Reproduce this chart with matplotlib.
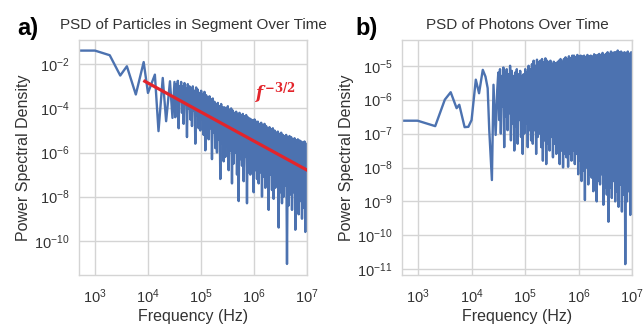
import numpy as np
import matplotlib
matplotlib.use('Agg')
import matplotlib.pyplot as plt
from matplotlib.ticker import NullLocator

# ---------------- data ----------------
# Panel a: PSD of particles in segment
freq_a_low = [500, 1000, 1900, 3000, 4000, 5900, 8300, 10000, 13500, 15800,
              19000, 22000, 26000, 29000]
psd_a_low_exp = [-1.38, -1.38, -1.59, -2.51, -2.09, -3.37, -1.90, -3.30, -2.47, -5.03,
                 -2.62, -4.58, -2.77, -4.43]
psd_a_dense_exp = [
    -2.8, -4.4, -2.9, -3.6, -2.75, -4.9, -3.0, -3.4, -2.8, -4.2,
    -3.0, -4.7, -2.85, -3.8, -3.1, -5.3, -2.9, -4.0, -3.0, -4.5,
    -3.1, -4.8, -3.0, -4.1, -3.2, -5.6, -3.05, -4.3, -3.15, -4.9,
    -3.3, -5.0, -3.2, -4.5, -3.35, -5.2, -3.25, -5.9, -3.4, -4.7,
    -3.5, -5.4, -3.45, -4.9, -3.6, -6.3, -3.55, -5.1, -3.7, -5.8,
    -3.8, -6.0, -3.75, -5.4, -3.9, -7.2, -3.8, -5.6, -3.95, -6.4,
    -3.95, -6.2, -4.0, -5.7, -3.9, -6.8, -4.05, -5.9, -4.0, -7.4,
    -4.1, -6.5, -4.2, -6.0, -4.15, -7.0, -4.25, -8.2, -4.2, -6.3,
    -4.3, -6.6, -4.25, -7.3, -4.35, -6.2, -4.3, -8.3, -4.4, -6.9,
    -4.45, -7.0, -4.5, -6.5, -4.55, -7.8, -4.5, -6.8, -4.6, -7.2,
    -4.6, -7.4, -4.7, -6.9, -4.65, -8.0, -4.75, -7.1, -4.7, -7.6,
    -4.8, -7.3, -4.9, -8.6, -4.85, -7.0, -4.95, -7.7, -4.9, -8.1,
    -5.0, -7.6, -5.1, -7.2, -5.05, -9.4, -5.15, -7.8, -5.1, -8.3,
    -5.2, -8.0, -5.25, -7.5, -5.2, -11.05, -5.3, -8.4, -5.25, -7.9,
    -5.3, -8.6, -5.4, -7.8, -5.35, -9.5, -5.45, -8.1, -5.4, -8.8,
    -5.45, -8.2, -5.5, -9.0, -5.55, -8.5, -5.5, -9.6, -5.6, -9.4,
]
fit_freq = [8.7e3, 1e7]
fit_psd = [1.7e-3, 1.6e-7]

# Panel b: PSD of photons
freq_b_low = [500, 980, 2090, 3160, 4070, 5250, 5890, 7410, 8710, 10000,
              12000, 13800, 16200, 18200, 20000, 21400, 24000, 25700, 28200, 30200]
psd_b_low_exp = [-6.62, -6.62, -6.78, -6.0, -5.78, -6.25, -6.15, -6.81, -6.80, -6.6,
                 -5.41, -5.81, -5.12, -5.32, -5.66, -6.89, -8.37, -5.56, -7.04, -5.71]
psd_b_dense_exp = [
    -5.2, -6.6, -5.1, -7.0, -5.3, -6.2, -5.05, -7.4, -5.2, -6.5,
    -5.1, -6.9, -5.25, -6.4, -5.0, -7.2, -5.15, -6.7, -5.3, -7.5,
    -5.2, -6.8, -5.1, -7.3, -5.25, -6.6, -5.15, -7.1, -5.3, -7.6,
    -5.25, -7.0, -5.1, -6.7, -5.2, -7.4, -5.0, -6.9, -5.1, -7.2,
    -4.95, -7.3, -4.85, -6.9, -5.0, -7.6, -4.82, -7.1, -4.9, -7.0,
    -4.85, -7.4, -4.8, -7.8, -4.9, -7.2, -4.78, -7.9, -4.85, -7.3,
    -4.9, -7.5, -4.85, -7.1, -4.95, -7.7, -4.88, -7.3, -4.92, -7.6,
    -4.9, -7.4, -4.85, -7.9, -4.8, -7.5, -4.88, -8.0, -4.8, -7.6,
    -4.75, -7.7, -4.8, -7.98, -4.72, -7.6, -4.78, -7.8, -4.7, -7.5,
    -4.7, -7.9, -4.75, -7.6, -4.68, -8.2, -4.72, -7.8, -4.7, -8.4,
    -4.72, -8.1, -4.7, -8.96, -4.75, -8.0, -4.68, -8.5, -4.72, -8.2,
    -4.7, -8.3, -4.72, -8.7, -4.66, -8.1, -4.7, -9.0, -4.68, -8.4,
    -4.65, -8.5, -4.7, -8.2, -4.62, -9.1, -4.68, -8.6, -4.65, -8.8,
    -4.6, -9.6, -4.65, -8.6, -4.58, -8.9, -4.62, -8.4, -4.6, -9.0,
    -4.6, -8.7, -4.55, -9.16, -4.6, -8.5, -4.58, -9.3, -4.62, -8.8,
    -4.6, -10.85, -4.62, -9.0, -4.58, -8.7, -4.64, -9.4, -4.6, -9.2,
]
dense_fmin, dense_fmax = 10 ** 4.5, 1e7

x_ticks = [1e3, 1e4, 1e5, 1e6, 1e7]
y_ticks_a = [1e-2, 1e-4, 1e-6, 1e-8, 1e-10]
y_ticks_b = [1e-5, 1e-6, 1e-7, 1e-8, 1e-9, 1e-10, 1e-11]

titles = ["PSD of Particles in Segment Over Time", "PSD of Photons Over Time"]
panel_labels = ["a)", "b)"]
fit_label = r'$f^{\mathit{-3/2}}$'

# ---------------- style ----------------
plt.rcParams['font.family'] = ['Liberation Sans', 'DejaVu Sans']
plt.rcParams['mathtext.fontset'] = 'custom'
plt.rcParams['mathtext.it'] = 'DejaVu Serif:italic:bold'
plt.rcParams['mathtext.rm'] = 'DejaVu Serif:bold'
plt.rcParams['mathtext.bf'] = 'DejaVu Serif:bold'

blue = '#4C72B0'
red = '#E3242B'
text_c = '#333333'
grid_c = '#d4d4d4'

fig = plt.figure(figsize=(6.44, 3.28), dpi=100)
W, H = 644, 328
axA = fig.add_axes([79 / W, 1 - 275 / H, 228 / W, 235 / H])
axB = fig.add_axes([402 / W, 1 - 275 / H, 230 / W, 235 / H])


def build(low_f, low_e, dense_e):
    f_dense = np.geomspace(dense_fmin, dense_fmax, len(dense_e))
    f = np.concatenate([np.asarray(low_f, float), f_dense])
    p = 10.0 ** np.concatenate([np.asarray(low_e, float), np.asarray(dense_e, float)])
    return f, p


fa, pa = build(freq_a_low, psd_a_low_exp, psd_a_dense_exp)
fb, pb = build(freq_b_low, psd_b_low_exp, psd_b_dense_exp)

axA.plot(fa, pa, color=blue, lw=1.7, zorder=2)
axA.plot(fit_freq, fit_psd, color=red, lw=2.3, zorder=3)
axA.text(1.05e6, 10 ** -3.3, fit_label, color=red, fontsize=12, ha='left', va='center')

axB.plot(fb, pb, color=blue, lw=1.7, zorder=2)

for ax, title, yt, ylim in zip([axA, axB], titles, [y_ticks_a, y_ticks_b],
                               [(10 ** -11.55, 10 ** -0.9), (10 ** -11.17, 10 ** -4.24)]):
    ax.set_xscale('log')
    ax.set_yscale('log')
    ax.set_xticks(x_ticks)
    ax.set_yticks(yt)
    ax.set_xlim(500, 1e7)
    ax.set_ylim(*ylim)
    ax.xaxis.set_minor_locator(NullLocator())
    ax.yaxis.set_minor_locator(NullLocator())
    ax.grid(True, color=grid_c, lw=1.0, zorder=0)
    ax.set_axisbelow(True)
    for s in ax.spines.values():
        s.set_color(grid_c)
        s.set_linewidth(1.0)
    ax.tick_params(axis='x', length=0, pad=9, labelsize=10.5, colors=text_c)
    ax.tick_params(axis='y', length=0, pad=7, labelsize=10.5, colors=text_c)
    ax.set_xlabel("Frequency (Hz)", fontsize=11.5, color=text_c, labelpad=2)
    ax.set_ylabel("Power Spectral Density", fontsize=11.5, color=text_c, labelpad=2)
    ax.set_title(title, fontsize=11, color=text_c, pad=8)

fig.text(17 / W, 1 - 29 / H, panel_labels[0], fontsize=17, fontweight='bold', ha='left', va='center')
fig.text(355 / W, 1 - 28 / H, panel_labels[1], fontsize=17, fontweight='bold', ha='left', va='center')

fig.savefig('out.png', dpi=100)
